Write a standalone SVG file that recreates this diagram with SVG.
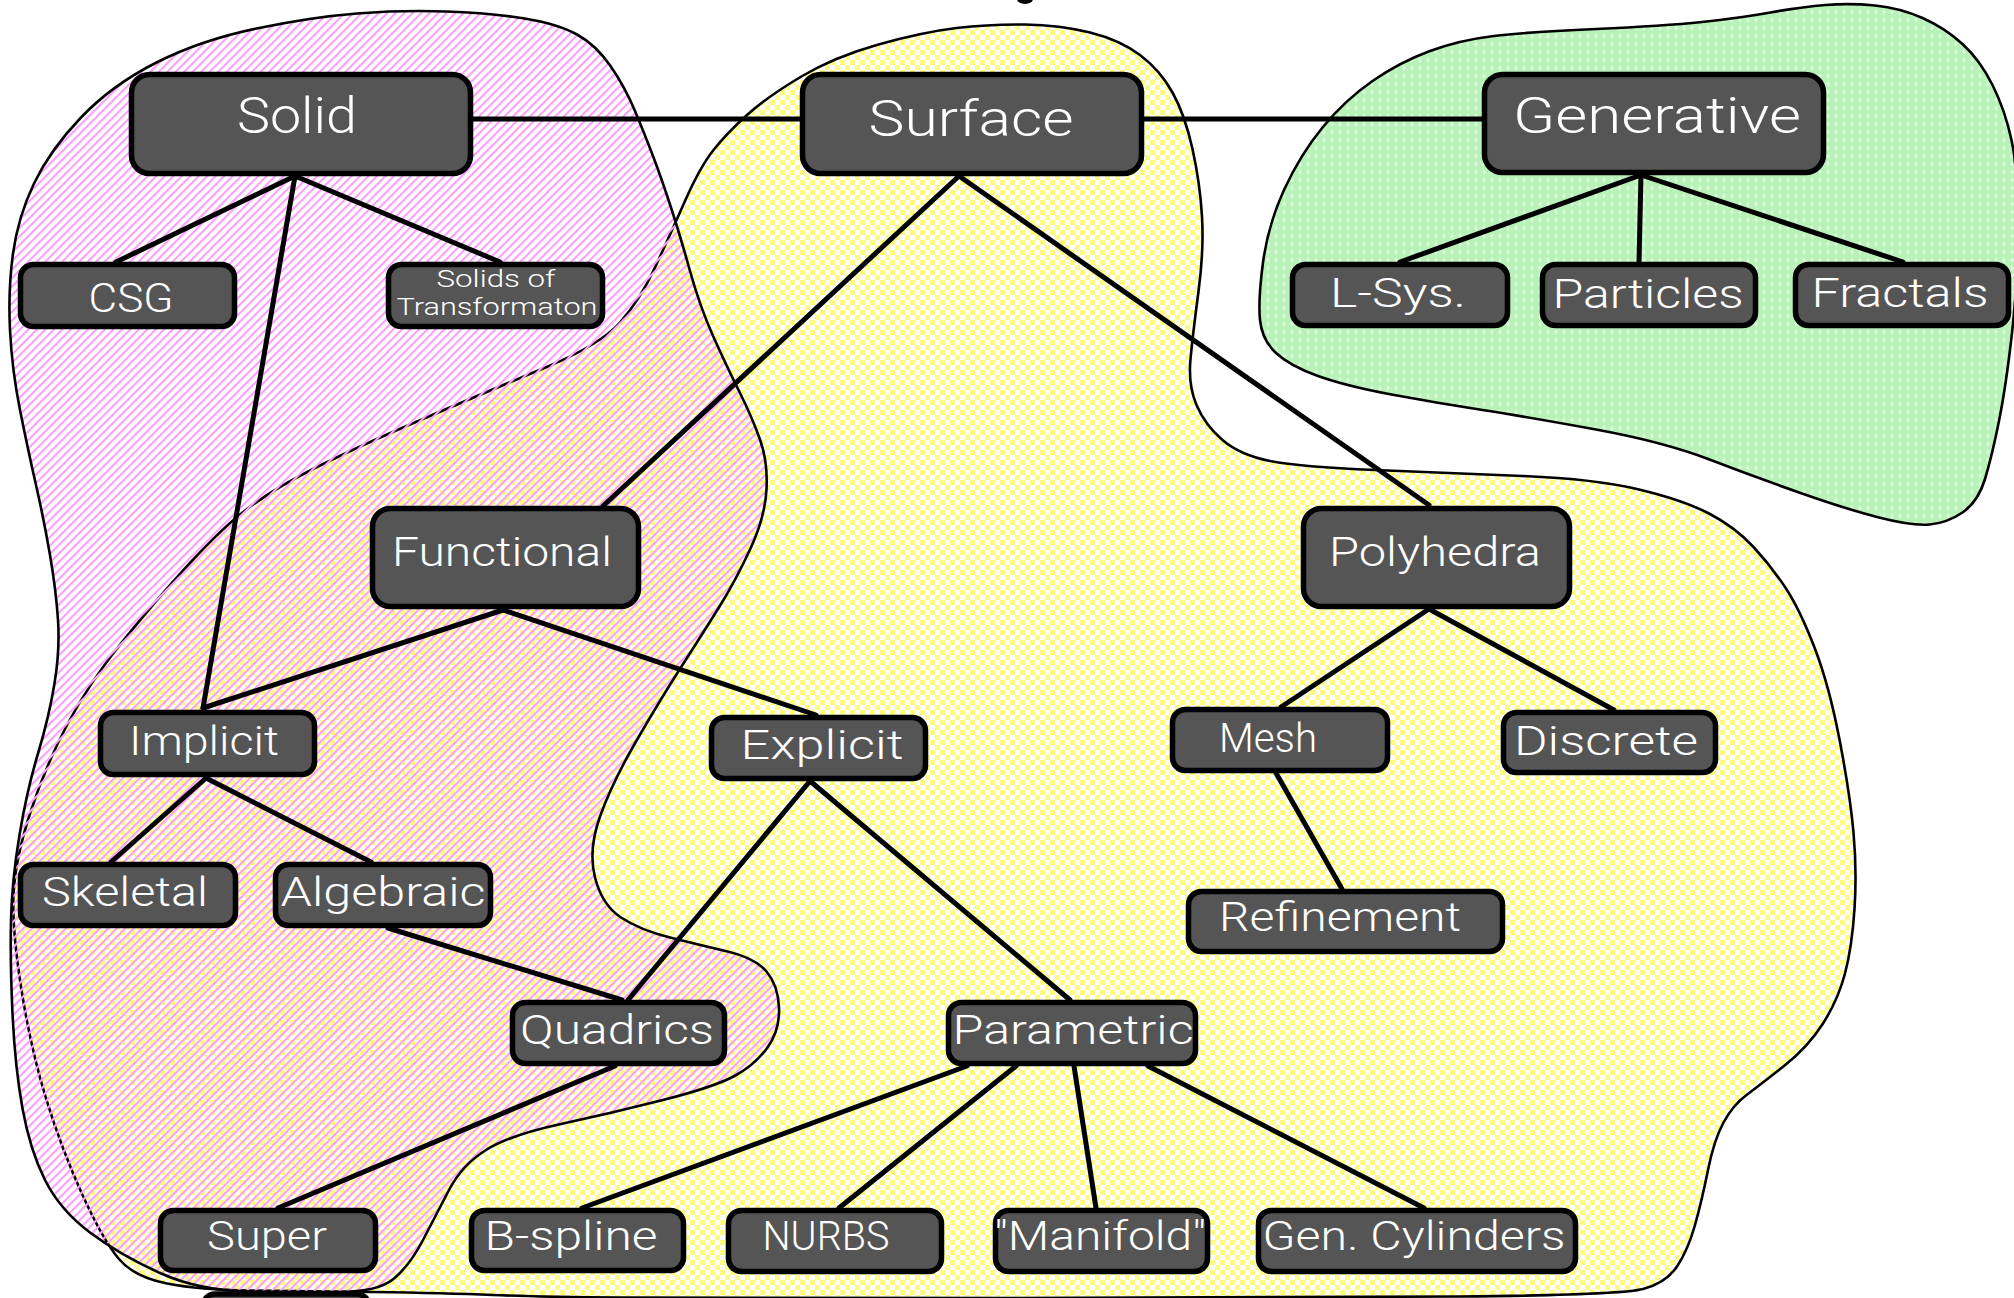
<svg xmlns="http://www.w3.org/2000/svg" width="2014" height="1298" viewBox="0 0 2014 1298">
<defs>
<pattern id="pinkHatch" width="6" height="6" patternUnits="userSpaceOnUse" patternTransform="rotate(45)">
<rect x="0" y="0" width="2.2" height="6" fill="#f9a2f9"/>
</pattern>
<pattern id="yellowCheck" width="10" height="10" patternUnits="userSpaceOnUse">
<rect x="0" y="0" width="5" height="5" fill="#fffb80"/>
<rect x="5" y="5" width="5" height="5" fill="#fffb80"/>
</pattern>
<pattern id="greenDots" width="8" height="8" patternUnits="userSpaceOnUse">
<rect x="0" y="0" width="8" height="8" fill="#b8f2b9"/>
<path d="M4 1 L6 4 L4 7 L2 4 Z" fill="#d9f9d9"/>
</pattern>
<style>
.blob{stroke:#000;stroke-width:2.6;}
.box{fill:#555555;stroke:#000;stroke-width:5.5;}
.lbl{fill:#fff;font-family:Roboto,"Liberation Sans",sans-serif;font-weight:300;text-anchor:middle;}
.big{font-size:50px;}
.mid{font-size:40px;}
.sm{font-size:23px;}
.conn line{stroke:#000;stroke-width:5;stroke-linecap:round;}
</style>
</defs>
<rect width="2014" height="1298" fill="#ffffff"/>
<g id="partial-node"><rect x="203" y="1294" width="166" height="60" rx="12" class="box"/></g>
<g id="blobs">
<path id="blob-surface" class="blob" fill="url(#yellowCheck)" d="M685,201 Q700,167 713.5,150 Q727,133 747,115 Q767,97 800.5,77 Q834,57 878.5,44.5 Q923,32 956.5,28 Q990,24 1025,24.5 Q1060,25 1090,32.5 Q1120,40 1140,55 Q1160,70 1172.5,92.5 Q1185,115 1192.5,149 Q1200,183 1202,216.5 Q1204,250 1198.5,291.5 Q1193,333 1190.5,359 Q1188,385 1196.5,405 Q1205,425 1222.5,440 Q1240,455 1270,461 Q1300,467 1375,470 Q1450,473 1522.5,476 Q1595,479 1639,489.5 Q1683,500 1709,513.5 Q1735,527 1753.5,547 Q1772,567 1786,588.5 Q1800,610 1814.5,647.5 Q1829,685 1839.5,739.5 Q1850,794 1853.5,832.5 Q1857,871 1854.5,909 Q1852,947 1845,973.5 Q1838,1000 1823,1023.5 Q1808,1047 1784,1066 Q1760,1085 1746.5,1095 Q1733,1105 1723.5,1122.5 Q1714,1140 1708,1170 Q1702,1200 1695,1225 Q1688,1250 1677,1266.5 Q1666,1283 1643,1289 Q1620,1295 1460,1296.5 Q1300,1298 1000,1298 Q700,1298 620,1297.5 Q540,1297 493,1295 Q446,1293 373,1292 Q300,1291 250,1290.5 Q200,1290 167,1283.5 Q134,1277 118.5,1258.5 Q103,1240 82.5,1195 Q62,1150 46.5,1100 Q31,1050 21.5,990 Q12,930 13.5,895 Q15,860 30,813.5 Q45,767 67,725 Q89,683 122.5,641.5 Q156,600 189.5,563.5 Q223,527 249,507.5 Q275,488 316,467.5 Q357,447 424,418.5 Q491,390 545.5,367.5 Q600,345 620,322.5 Q640,300 655,267.5 Q670,235 685,201 Z"/>
<path id="blob-solid" class="blob" fill="url(#pinkHatch)" d="M256.5,28.5 Q312,17 357,13.5 Q402,10 446.5,11.5 Q491,13 524.5,18.5 Q558,24 577,34.5 Q596,45 610.5,66 Q625,87 635,111 Q645,135 653,156 Q661,177 670.5,206 Q680,235 690,271 Q700,307 713.5,337 Q727,367 739.5,392 Q752,417 760,439.5 Q768,462 766.5,489.5 Q765,517 750.5,548.5 Q736,580 719.5,606.5 Q703,633 681.5,666.5 Q660,700 636,741.5 Q612,783 600,816.5 Q588,850 595,877.5 Q602,905 621,917.5 Q640,930 670,937.5 Q700,945 727.5,951.5 Q755,958 766.5,971.5 Q778,985 779,1007.5 Q780,1030 767.5,1047.5 Q755,1065 734.5,1076 Q714,1087 663,1100 Q612,1113 561,1124 Q510,1135 486,1150 Q462,1165 449,1190 Q436,1215 423,1240 Q410,1265 394,1278.5 Q378,1292 339,1292 Q300,1292 250,1291.5 Q200,1291 160,1273 Q120,1255 90,1232.5 Q60,1210 45,1180 Q30,1150 22.5,1108.5 Q15,1067 12.5,1013.5 Q10,960 11,920 Q12,880 19.5,835 Q27,790 38,753.5 Q49,717 54.5,683.5 Q60,650 58,620 Q56,590 50,555 Q44,520 36,485 Q28,450 20,410 Q12,370 10,330 Q8,290 13,253.5 Q18,217 34,183.5 Q50,150 81,117.5 Q112,85 156.5,62.5 Q201,40 256.5,28.5 Z"/>
<path id="blob-generative" class="blob" fill="url(#greenDots)" d="M1260,320 Q1258,300 1263,262.5 Q1268,225 1284,190 Q1300,155 1322.5,127.5 Q1345,100 1372.5,81 Q1400,62 1430,51 Q1460,40 1494,36 Q1528,32 1596,29 Q1664,26 1702,22 Q1740,18 1770.5,12.5 Q1801,7 1825.5,5 Q1850,3 1875,5.5 Q1900,8 1922.5,18 Q1945,28 1962.5,44 Q1980,60 1992.5,85 Q2005,110 2011.5,140 Q2018,170 2018,225 Q2018,280 2012,333 Q2006,386 1999,421 Q1992,456 1985,479 Q1978,502 1962.5,512.5 Q1947,523 1929.5,524.5 Q1912,526 1879,517.5 Q1846,509 1800.5,493 Q1755,477 1709.5,459.5 Q1664,442 1596,429.5 Q1528,417 1482.5,410 Q1437,403 1391.5,394.5 Q1346,386 1318,376 Q1290,366 1276,353 Q1262,340 1260,320 Z"/>
</g>
<ellipse cx="1025" cy="-1" rx="8" ry="5" fill="#000"/>
<g id="connectors" class="conn">
<line x1="473" y1="119" x2="800" y2="119"/>
<line x1="1144" y1="119" x2="1482" y2="119"/>
<line x1="295" y1="176" x2="116" y2="262"/>
<line x1="295" y1="176" x2="500" y2="262"/>
<line x1="295" y1="176" x2="203" y2="708"/>
<line x1="959" y1="176" x2="603" y2="506"/>
<line x1="959" y1="176" x2="1429" y2="505"/>
<line x1="1641" y1="175" x2="1400" y2="262"/>
<line x1="1641" y1="175" x2="1639" y2="262"/>
<line x1="1641" y1="175" x2="1903" y2="262"/>
<line x1="503" y1="610" x2="203" y2="708"/>
<line x1="503" y1="610" x2="816" y2="715"/>
<line x1="206" y1="778" x2="111" y2="862"/>
<line x1="206" y1="778" x2="371" y2="862"/>
<line x1="388" y1="928" x2="622" y2="1000"/>
<line x1="810" y1="781" x2="628" y2="1000"/>
<line x1="810" y1="781" x2="1070" y2="1000"/>
<line x1="615" y1="1066" x2="278" y2="1208"/>
<line x1="967" y1="1066" x2="582" y2="1208"/>
<line x1="1016" y1="1066" x2="839" y2="1208"/>
<line x1="1074" y1="1066" x2="1096" y2="1208"/>
<line x1="1148" y1="1066" x2="1424" y2="1208"/>
<line x1="1429" y1="609" x2="1281" y2="707"/>
<line x1="1429" y1="609" x2="1614" y2="710"/>
<line x1="1276" y1="773" x2="1342" y2="889"/>
</g>
<g id="node-solid"><rect class="box" x="131.5" y="74.5" width="339" height="99" rx="18"/><text class="lbl big" x="297" y="133" textLength="120" lengthAdjust="spacingAndGlyphs">Solid</text></g>
<g id="node-surface"><rect class="box" x="802.5" y="74.5" width="339" height="99" rx="18"/><text class="lbl big" x="971" y="136" textLength="205" lengthAdjust="spacingAndGlyphs">Surface</text></g>
<g id="node-generative"><rect class="box" x="1484.5" y="74.5" width="339" height="98" rx="18"/><text class="lbl big" x="1657" y="133" textLength="288" lengthAdjust="spacingAndGlyphs">Generative</text></g>
<g id="node-csg"><rect class="box" x="20.5" y="264.5" width="214" height="62" rx="13"/><text class="lbl mid" x="131" y="312" textLength="85" lengthAdjust="spacingAndGlyphs">CSG</text></g>
<g id="node-sot"><rect class="box" x="388.5" y="264.5" width="214" height="62" rx="13"/><text class="lbl sm" x="496" y="287" textLength="119" lengthAdjust="spacingAndGlyphs">Solids of</text><text class="lbl sm" x="497" y="315" textLength="201" lengthAdjust="spacingAndGlyphs">Transformaton</text></g>
<g id="node-lsys"><rect class="box" x="1292.5" y="264.5" width="215" height="61" rx="13"/><text class="lbl mid" x="1398" y="307" textLength="136" lengthAdjust="spacingAndGlyphs">L-Sys.</text></g>
<g id="node-particles"><rect class="box" x="1542.5" y="264.5" width="213" height="61" rx="13"/><text class="lbl mid" x="1648" y="308" textLength="191" lengthAdjust="spacingAndGlyphs">Particles</text></g>
<g id="node-fractals"><rect class="box" x="1795.5" y="264.5" width="213" height="61" rx="13"/><text class="lbl mid" x="1900" y="307" textLength="177" lengthAdjust="spacingAndGlyphs">Fractals</text></g>
<g id="node-functional"><rect class="box" x="372.5" y="508.5" width="266" height="98" rx="18"/><text class="lbl mid" x="502" y="566" textLength="220" lengthAdjust="spacingAndGlyphs">Functional</text></g>
<g id="node-polyhedra"><rect class="box" x="1303.5" y="508.5" width="266" height="98" rx="18"/><text class="lbl mid" x="1435" y="566" textLength="212" lengthAdjust="spacingAndGlyphs">Polyhedra</text></g>
<g id="node-implicit"><rect class="box" x="100.5" y="712.5" width="214" height="62" rx="13"/><text class="lbl mid" x="204" y="755" textLength="150" lengthAdjust="spacingAndGlyphs">Implicit</text></g>
<g id="node-explicit"><rect class="box" x="711.5" y="717.5" width="214" height="61" rx="13"/><text class="lbl mid" x="822" y="759" textLength="163" lengthAdjust="spacingAndGlyphs">Explicit</text></g>
<g id="node-mesh"><rect class="box" x="1172.5" y="709.5" width="215" height="61" rx="13"/><text class="lbl mid" x="1268" y="752" textLength="98" lengthAdjust="spacingAndGlyphs">Mesh</text></g>
<g id="node-discrete"><rect class="box" x="1503.5" y="712.5" width="212" height="60" rx="13"/><text class="lbl mid" x="1606" y="755" textLength="184" lengthAdjust="spacingAndGlyphs">Discrete</text></g>
<g id="node-skeletal"><rect class="box" x="20.5" y="864.5" width="215" height="61" rx="13"/><text class="lbl mid" x="125" y="906" textLength="166" lengthAdjust="spacingAndGlyphs">Skeletal</text></g>
<g id="node-algebraic"><rect class="box" x="275.5" y="864.5" width="215" height="61" rx="13"/><text class="lbl mid" x="383" y="906" textLength="205" lengthAdjust="spacingAndGlyphs">Algebraic</text></g>
<g id="node-refinement"><rect class="box" x="1188.5" y="891.5" width="314" height="60" rx="13"/><text class="lbl mid" x="1340" y="931" textLength="242" lengthAdjust="spacingAndGlyphs">Refinement</text></g>
<g id="node-quadrics"><rect class="box" x="512.5" y="1002.5" width="212" height="61" rx="13"/><text class="lbl mid" x="617" y="1044" textLength="194" lengthAdjust="spacingAndGlyphs">Quadrics</text></g>
<g id="node-parametric"><rect class="box" x="948.5" y="1002.5" width="247" height="61" rx="13"/><text class="lbl mid" x="1073" y="1044" textLength="241" lengthAdjust="spacingAndGlyphs">Parametric</text></g>
<g id="node-super"><rect class="box" x="160.5" y="1210.5" width="215" height="60" rx="13"/><text class="lbl mid" x="267" y="1250" textLength="120" lengthAdjust="spacingAndGlyphs">Super</text></g>
<g id="node-bspline"><rect class="box" x="471.5" y="1210.5" width="212" height="60" rx="13"/><text class="lbl mid" x="571" y="1250" textLength="173" lengthAdjust="spacingAndGlyphs">B-spline</text></g>
<g id="node-nurbs"><rect class="box" x="728.5" y="1210.5" width="213" height="61" rx="13"/><text class="lbl mid" x="826" y="1250" textLength="127" lengthAdjust="spacingAndGlyphs">NURBS</text></g>
<g id="node-manifold"><rect class="box" x="995.5" y="1210.5" width="212" height="61" rx="13"/><text class="lbl mid" x="1100" y="1250" textLength="212" lengthAdjust="spacingAndGlyphs">"Manifold"</text></g>
<g id="node-gencyl"><rect class="box" x="1258.5" y="1210.5" width="317" height="61" rx="13"/><text class="lbl mid" x="1414" y="1250" textLength="303" lengthAdjust="spacingAndGlyphs">Gen. Cylinders</text></g>
</svg>
